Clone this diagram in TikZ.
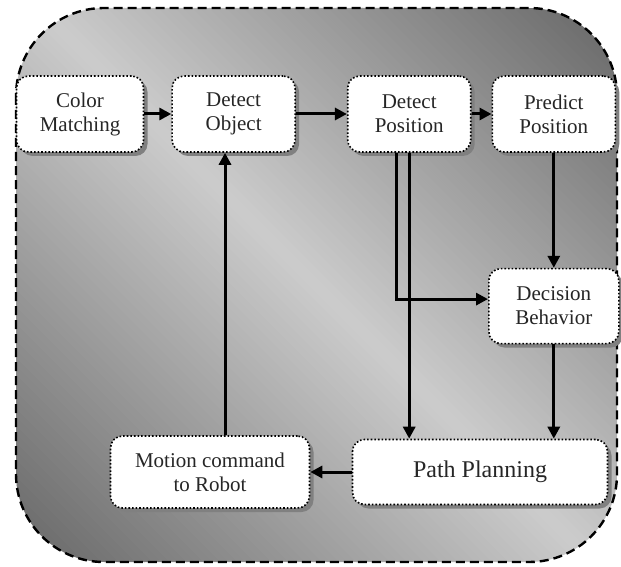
\documentclass[tikz,border=0pt]{standalone}
\usepackage{fontspec}
\setmainfont{Liberation Serif}
\usetikzlibrary{shadows, arrows.meta, positioning, calc}

\begin{document}
\begin{tikzpicture}[
        x=1pt, y=-1pt,
        box/.style={rectangle, rounded corners=12pt, draw=black, dotted, line width=1.6pt, fill=white,
            minimum width=123pt, minimum height=76pt, align=center, text=black!85,
            font=\fontsize{21}{24}\selectfont,
            drop shadow={shadow xshift=4pt, shadow yshift=-4pt, fill=black!50, opacity=1}},
        arrow/.style={-{Triangle[length=12pt, width=12pt]}, line width=3pt},
        frame/.style={rounded corners=88pt}
    ]
    \useasboundingbox (0,0) rectangle (621,567);

    % Background (diagonal gradient in strips)
    \begin{scope}
        \clip [frame] (16,8) rectangle (617,562);
        \begin{scope}[shift={(316.5,285)}, rotate=45]
            \foreach \s in {-420,-414,...,414} {
                \pgfmathsetmacro\shade{20+40*min(1,abs(\s+3)/408)}
                \fill [black!\shade] (\s,-460) rectangle (\s+6.6,460);
            }
        \end{scope}
    \end{scope}
    \draw [frame, draw=black, dash pattern=on 9pt off 5pt, line width=2.4pt] (16,8) rectangle (617,562);

    % Nodes
    \node (color) [box, minimum width=127pt] at (80,114) {Color\\Matching};
    \node (detobj) [box, right=27pt of color] {Detect\\Object};
    \node (detpos) [box, right=51pt of detobj] {Detect\\Position};
    \node (predpos) [box, right=20pt of detpos] {Predict\\Position};
    \node (decision) [box, minimum width=130pt, minimum height=75pt, below=115pt of predpos] {Decision\\Behavior};
    \node (pathplan) [box, minimum width=255pt, minimum height=65pt, font=\fontsize{24}{28}\selectfont] at (480,472) {Path Planning};
    \node (motion) [box, minimum width=199pt, minimum height=72pt] at (210,472) {Motion command\\to Robot};

    % Connections
    \draw [arrow] (color) -- (detobj);
    \draw [arrow] (detobj) -- (detpos);
    \draw [arrow] (detpos) -- (predpos);
    \draw [arrow] (predpos) -- (decision);

    \draw [arrow] ([xshift=-13pt]detpos.south) |- ([yshift=7pt]decision.west);
    \draw [arrow] (detpos.south) -- (detpos.south |- pathplan.north);
    \draw [arrow] (decision.south) -- (decision.south |- pathplan.north);

    \draw [arrow] (pathplan) -- (motion);
    \draw [arrow] ([xshift=15pt]motion.north) -- ([xshift=15pt]motion.north |- detobj.south);

\end{tikzpicture}
\end{document}
